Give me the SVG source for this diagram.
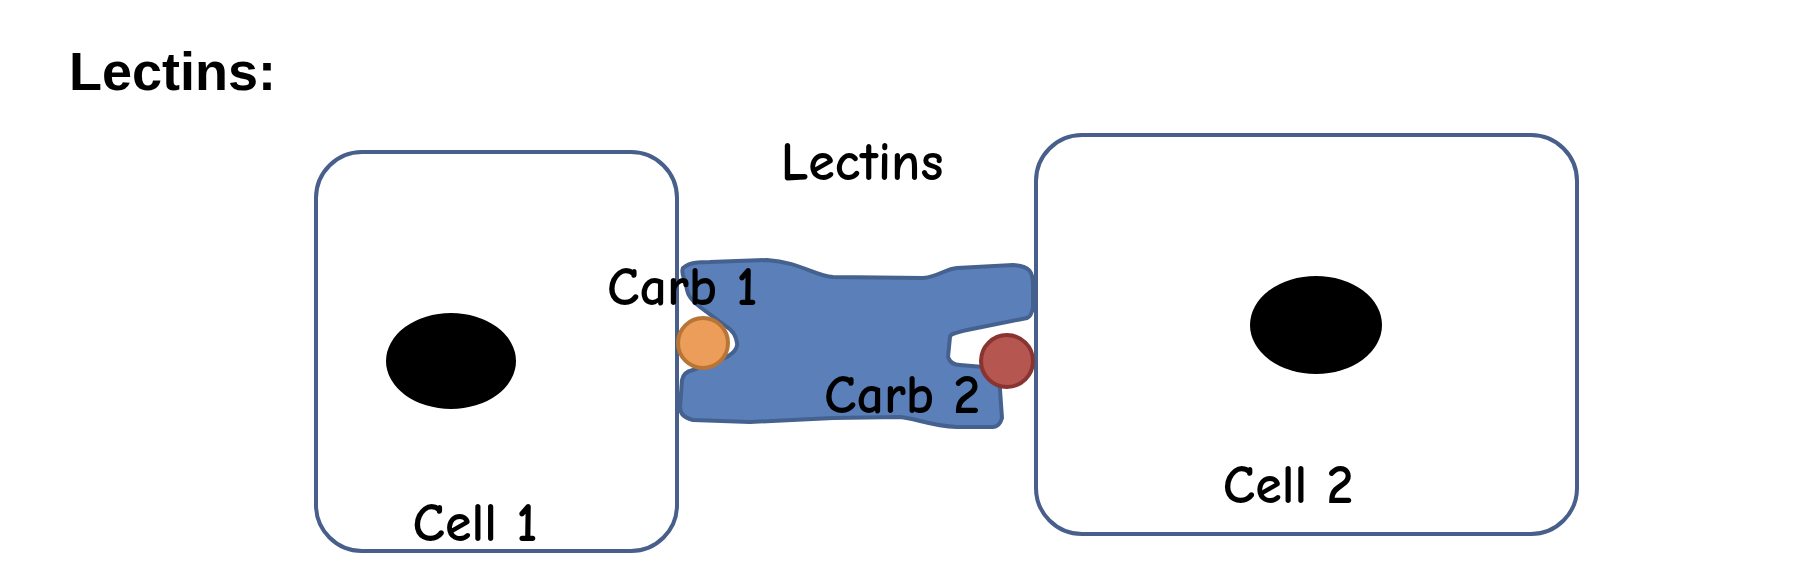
<svg xmlns="http://www.w3.org/2000/svg" width="1815" height="584" viewBox="0 0 1815 584">
<style>
.cell{fill:#fff;stroke:#475f8a;stroke-width:4}
.nuc{fill:#000}
.hand{font-family:"Comic Neue","DejaVu Sans",sans-serif;font-size:54px;font-weight:bold;fill:#000}
</style>
<rect width="1815" height="584" fill="#fff"/>
<text x="69" y="90" font-family="Liberation Sans,Arial,sans-serif" font-weight="bold" font-size="54">Lectins:</text>
<g id="cell1"><rect class="cell" x="316" y="152" width="361" height="399" rx="46"/><ellipse class="nuc" cx="451" cy="361" rx="65" ry="48"/><text class="hand" x="475" y="541" text-anchor="middle">Cell 1</text></g>
<g id="cell2"><rect class="cell" x="1036" y="135" width="541" height="399" rx="46"/><ellipse class="nuc" cx="1316" cy="325" rx="66" ry="49"/><text class="hand" x="1288" y="503" text-anchor="middle">Cell 2</text></g>
<g id="lectin"><path d="M683,268 C690,262 700,262 710,262 L767,260 C800,262 815,276 833,277 L923,278 C940,276 945,269 957,268 L1013,265 C1030,266 1033,272 1033,285 L1033,307 C1032,313 1030,317 1027,318 L967,330 C955,333 950,334 950,337 L948,357 C950,363 955,365 960,365 L983,367 C995,372 1000,380 1000,390 L1002,418 C1000,425 997,427 993,427 L957,427 C930,426 915,418 900,417 L833,418 L750,422 L693,420 C684,418 680,414 680,407 L682,380 C683,374 688,371 693,370 L727,357 C735,352 738,348 737,343 C736,336 732,330 727,327 L700,307 C692,301 688,296 687,290 C686,280 680,274 683,268 Z" fill="#5b7fb8" stroke="#45618f" stroke-width="4"/><text class="hand" x="862" y="180" text-anchor="middle">Lectins</text></g>
<g id="carb1"><circle cx="703" cy="343" r="25" fill="#eb9d59" stroke="#b87535" stroke-width="4"/><text class="hand" x="607" y="305">Carb 1</text></g>
<g id="carb2"><circle cx="1007" cy="361" r="26" fill="#b55650" stroke="#8a3431" stroke-width="4"/><text class="hand" x="824" y="413">Carb 2</text></g>
<g id="connectors"/>
</svg>
